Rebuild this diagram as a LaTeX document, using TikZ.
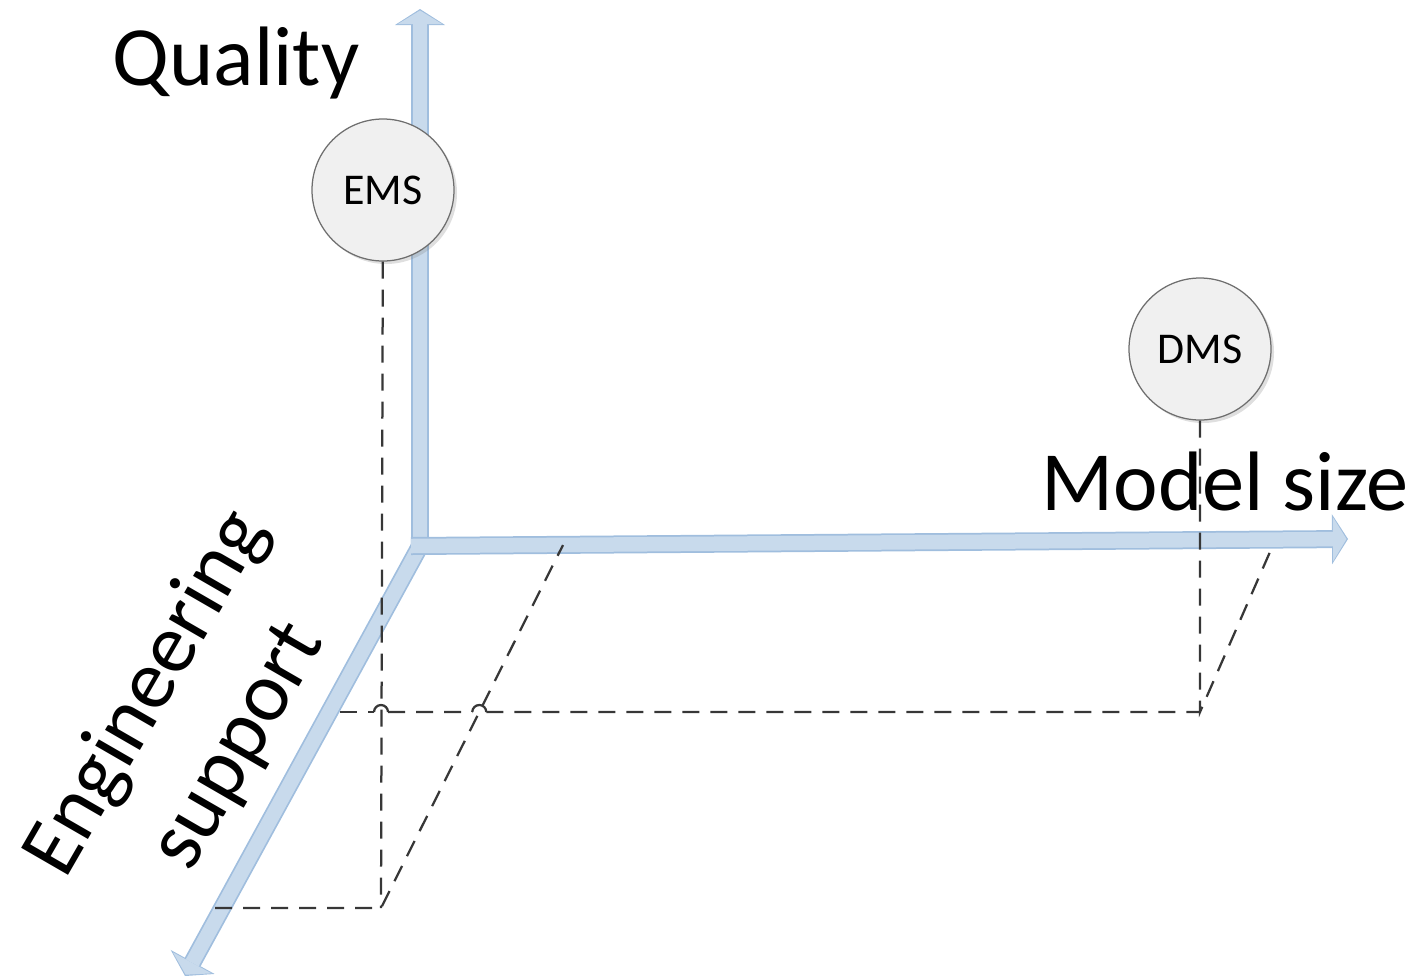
\documentclass[tikz,border=0pt]{standalone}
\usepackage{fontspec}
\setmainfont{Carlito}
\usetikzlibrary{arrows.meta,calc,shadows}
\definecolor{axisfill}{RGB}{200,218,236}
\definecolor{axisrim}{RGB}{160,190,222}
\definecolor{projgray}{RGB}{55,55,55}
\definecolor{ballfill}{RGB}{240,240,240}
\definecolor{ballrim}{RGB}{110,110,110}

\begin{document}
\begin{tikzpicture}[x=0.2mm,y=-0.2mm,
    axisout/.style={line width=3.6mm,color=axisrim,
        -{Triangle[width=10mm,length=3.2mm,line width=0pt]}},
    axisin/.style={line width=2.9mm,color=axisfill,shorten >=0.3mm,
        -{Triangle[width=8.8mm,length=2.7mm,line width=0pt]}},
    proj/.style={draw=projgray,line width=0.45mm,dash pattern=on 3.4mm off 2.2mm},
    hop/.style={draw=projgray,line width=0.45mm},
    ball/.style={circle,draw=ballrim,fill=ballfill,line width=0.25mm,
        minimum size=28.4mm,inner sep=0pt,font=\fontsize{25}{30}\selectfont,
        drop shadow={shadow xshift=0.6mm,shadow yshift=-0.6mm,opacity=0.25}},
    bigtext/.style={font=\fontsize{48}{60}\selectfont}]
    \useasboundingbox (0,0) rectangle (1418,975);

    % axes
    \coordinate (O) at (420,546);
    \coordinate (Oh) at (411,546);
    \coordinate (qtip) at (420,9);
    \coordinate (mtip) at (1348,539);
    \coordinate (etip) at (185,976);
    \draw[axisout] (O) -- (etip);
    \draw[axisin] (O) -- (etip);
    \draw[axisout] (O) -- (qtip);
    \draw[axisin] (O) -- (qtip);
    \draw[axisout] (Oh) -- (mtip);
    \draw[axisin] (Oh) -- (mtip);

    % axis labels
    \node[bigtext,anchor=base] (qlabel) at (236,85) {Quality};
    \node[bigtext,anchor=base] (mlabel) at (1225,510) {Model size};
    \node[bigtext,rotate=60,align=center] (elabel) at (193,720) {Engineering\\support};

    % models
    \node[ball] (ems) at (383,190) {EMS};
    \node[ball] (dms) at (1200,349) {DMS};

    % projection lines
    \coordinate (A) at (381,712);
    \coordinate (B) at (381,908);
    \coordinate (C) at (215,908);
    \coordinate (D) at (563,545);
    \coordinate (F) at (340,712);
    \coordinate (G) at (1200,712);
    \coordinate (H) at (1273,545);
    \coordinate (X) at ($(B)!0.54!(D)$);
    \coordinate (A1) at ($(A)+(-7,0)$);
    \coordinate (A2) at ($(A)+(7,0)$);
    \coordinate (X1) at ($(X)+(-7,0)$);
    \coordinate (X2) at ($(X)+(7,0)$);
    \draw[proj] (ems) -- (B);
    \draw[proj] (C) -- (B) -- (D);
    \draw[proj] (dms) -- (G) -- (H);
    \draw[proj] (F) -- (A1);
    \draw[proj] (A2) -- (X1);
    \draw[proj] (X2) -- (G);
    % hops over the crossings
    \draw[hop] (A1) arc[start angle=180,end angle=0,radius=1.4mm];
    \draw[hop] (X1) arc[start angle=180,end angle=0,radius=1.4mm];
\end{tikzpicture}
\end{document}
